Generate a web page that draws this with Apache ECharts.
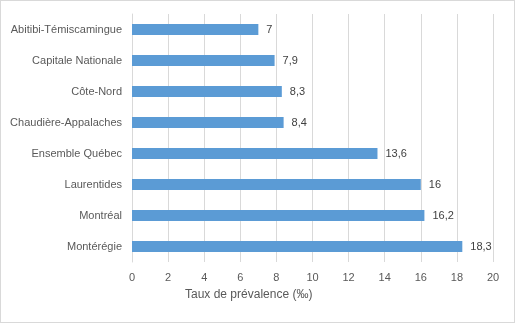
<!DOCTYPE html>
<html><head><meta charset="utf-8">
<script src="https://cdn.jsdelivr.net/npm/echarts@6/dist/echarts.min.js"></script>
<style>html,body{margin:0;padding:0;background:#fff}#c{width:515px;height:323px;box-sizing:border-box;border:1px solid #d9d9d9}</style>
</head><body><div id="c"></div>
<script>
const categories = ["Abitibi-Témiscamingue","Capitale Nationale","Côte-Nord","Chaudière-Appalaches","Ensemble Québec","Laurentides","Montréal","Montérégie"];
const values = [7, 7.9, 8.3, 8.4, 13.6, 16, 16.2, 18.3];
const axisTitle = "Taux de prévalence (‰)";
const FONT = "'Liberation Sans', 'DejaVu Sans', sans-serif";
const chart = echarts.init(document.getElementById('c'), null, {renderer:'canvas'});
chart.setOption({
  animation:false,
  textStyle:{fontFamily:FONT},
  grid:{left:131,right:21,top:13,bottom:60,containLabel:false},
  xAxis:{type:'value',min:0,max:20,interval:2,
    axisLine:{show:false},axisTick:{show:false},
    splitLine:{lineStyle:{color:'#d9d9d9',width:1}},
    axisLabel:{color:'#595959',fontSize:11,margin:10,fontFamily:FONT}},
  yAxis:{type:'category',data:categories,inverse:true,
    axisLine:{lineStyle:{color:'#d9d9d9'}},axisTick:{show:false},
    axisLabel:{color:'#595959',fontSize:11,margin:10,fontFamily:FONT}},
  graphic:[{type:'text',left:184,top:288,style:{text:axisTitle,fill:'#595959',font:'12px '+FONT}}],
  series:[{type:'bar',data:values,barWidth:11,itemStyle:{color:'#5b9bd5'},
    label:{show:true,position:'right',distance:8,color:'#404040',fontSize:11,fontFamily:FONT,
      formatter:p=>String(p.value).replace('.',',')}}]
});
</script></body></html>
